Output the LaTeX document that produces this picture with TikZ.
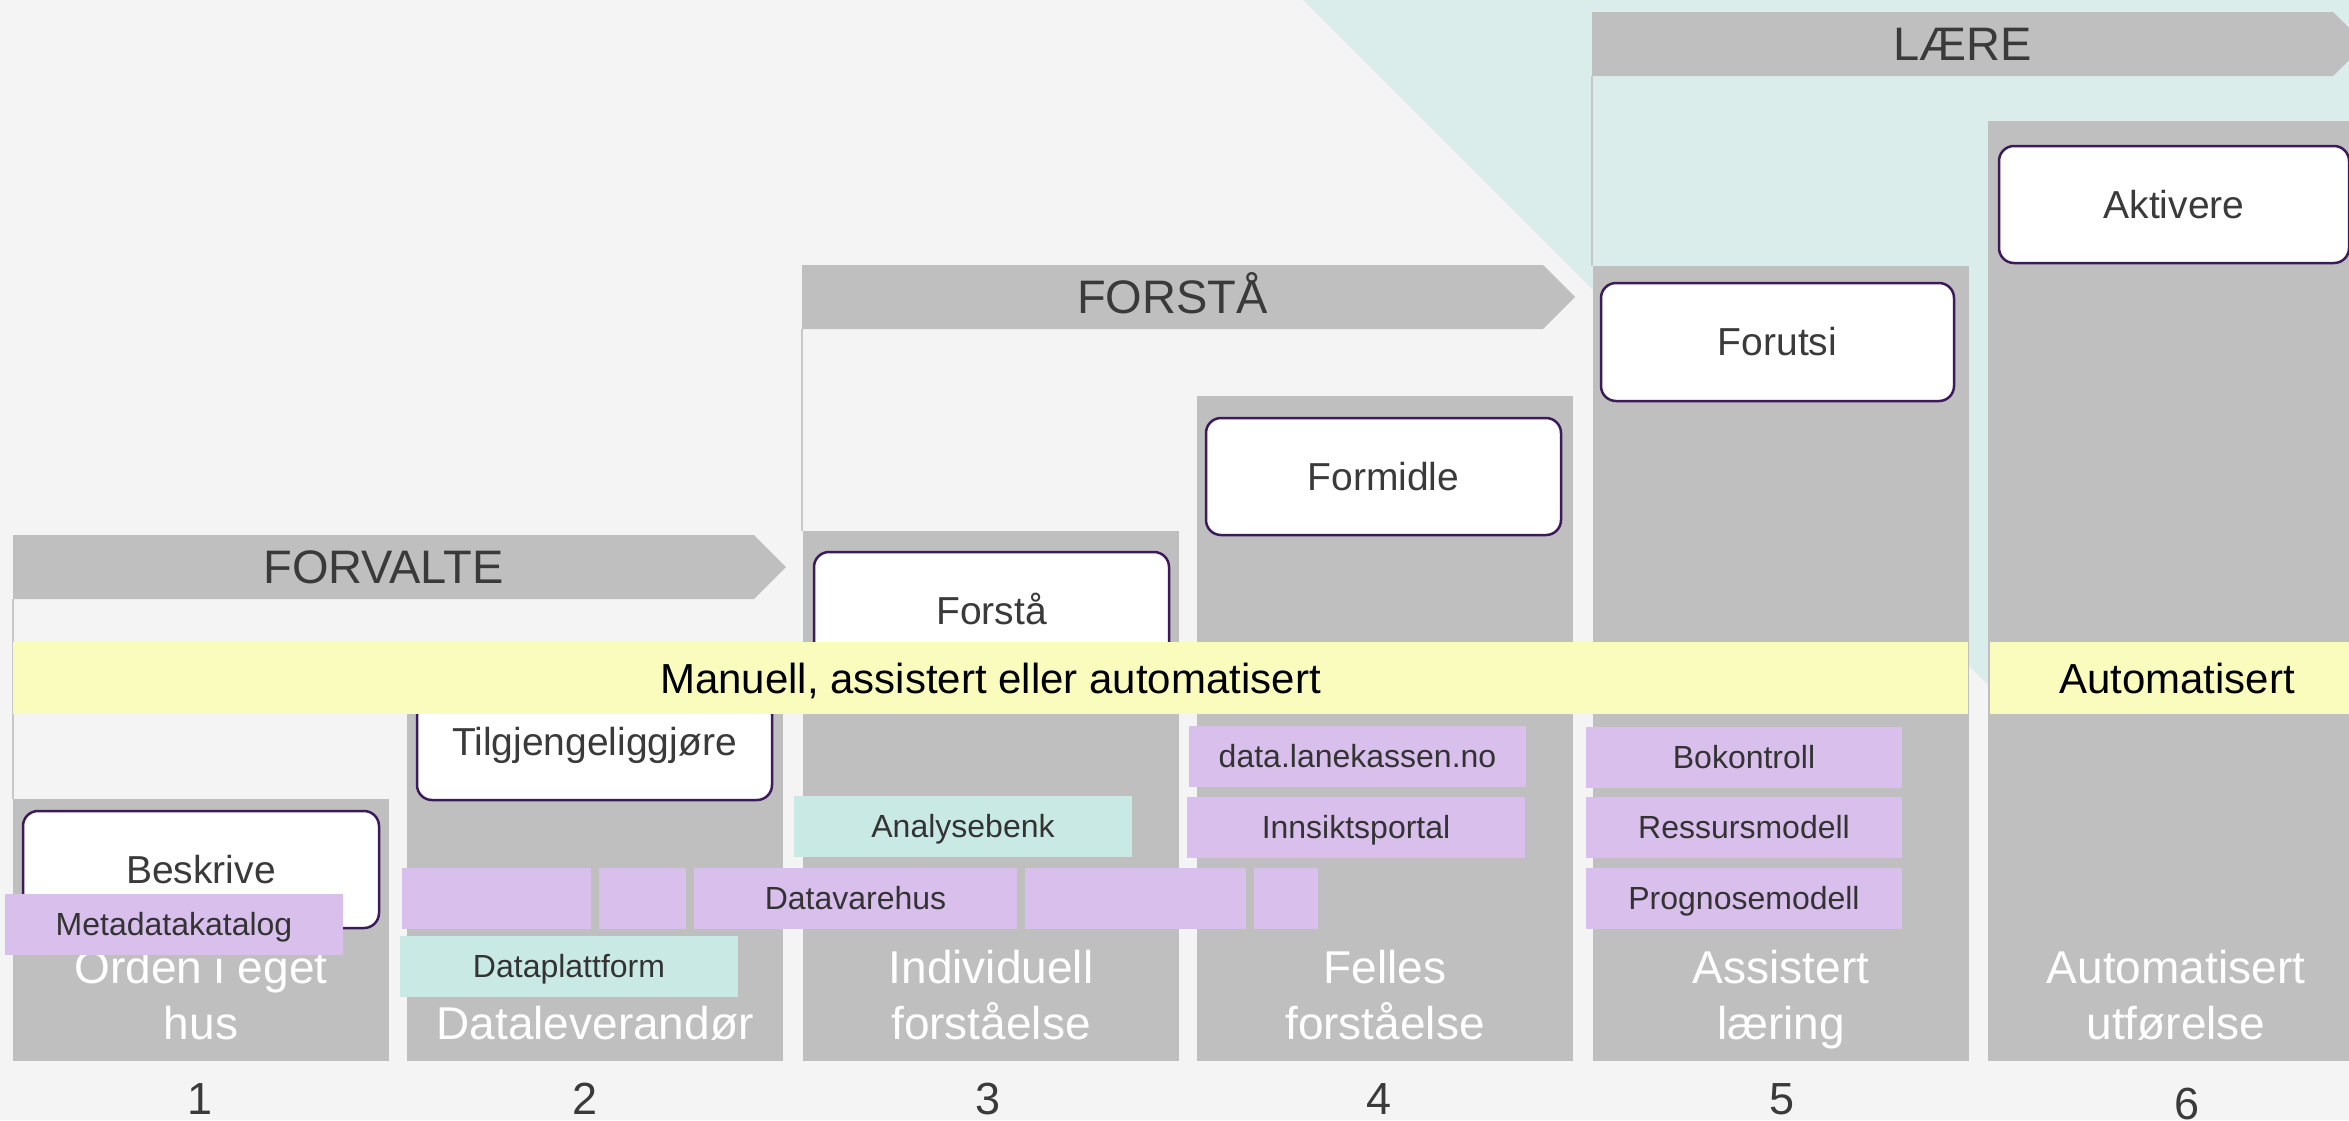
\documentclass[tikz,border=0pt]{standalone}
\usepackage{fontspec}
\setmainfont{Liberation Sans}
\definecolor{bgc}{HTML}{F4F4F4}
\definecolor{tealbg}{HTML}{DAEDEB}
\definecolor{colgrey}{HTML}{BFBFBF}
\definecolor{linegrey}{HTML}{C8C8C8}
\definecolor{yellowc}{HTML}{F9FCBD}
\definecolor{purp}{HTML}{D9BFEC}
\definecolor{tealbox}{HTML}{C9E9E4}
\definecolor{boxborder}{HTML}{3C1A5B}
\definecolor{txtgrey}{HTML}{3A3A3A}
\definecolor{txtdark}{HTML}{333333}
\tikzset{
  colbox/.style={fill=colgrey, draw=none, inner sep=0pt, anchor=north west},
  phasebar/.style={fill=colgrey, draw=none},
  phasetitle/.style={inner sep=0pt, text=txtgrey, font=\fontsize{47pt}{56pt}\selectfont, text height=33.7pt, text depth=0pt},
  bracketline/.style={draw=linegrey, line width=2pt},
  stepbox/.style={rounded corners=15pt, fill=white, draw=boxborder, line width=2.5pt, inner sep=0pt, text=txtgrey, font=\fontsize{39pt}{47pt}\selectfont, text height=27.9pt, text depth=0pt},
  pbox/.style={fill=purp, draw=none, inner sep=0pt, text=txtdark, font=\fontsize{32pt}{38pt}\selectfont, text height=22.9pt, text depth=0pt, minimum height=61pt},
  tbox/.style={pbox, fill=tealbox},
  yband/.style={fill=yellowc, draw=none, inner sep=0pt, text=black, font=\fontsize{42pt}{50pt}\selectfont, text height=30.1pt, text depth=0pt, minimum height=72pt},
  collabel/.style={inner sep=0pt, anchor=base, text=white, font=\fontsize{46pt}{56pt}\selectfont},
  numlabel/.style={inner sep=0pt, anchor=base, text=txtgrey, font=\fontsize{45pt}{54pt}\selectfont}
}
\begin{document}
\begin{tikzpicture}[x=1pt,y=-1pt]
\useasboundingbox (0,0) rectangle (2349,1120);
\clip (0,0) rectangle (2349,1120);
% background
\fill[bgc] (0,0) rectangle (2349,1120);
\fill[tealbg] (1303,0) -- (2349,0) -- (2349,1046) -- cycle;

% columns
\node[colbox, minimum width=376pt, minimum height=262pt] (c1) at (13,799) {};
\node[colbox, minimum width=376pt, minimum height=396pt] (c2) at (407,665) {};
\node[colbox, minimum width=376pt, minimum height=530pt] (c3) at (803,531) {};
\node[colbox, minimum width=376pt, minimum height=665pt] (c4) at (1197,396) {};
\node[colbox, minimum width=376pt, minimum height=795pt] (c5) at (1593,266) {};
\node[colbox, minimum width=376pt, minimum height=940pt] (c6) at (1988,121) {};

% phase bars
\fill[phasebar] (13,535) -- (754,535) -- (786,567) -- (754,599) -- (13,599) -- cycle;
\node[phasetitle] (tforvalte) at (383.5,567) {FORVALTE};
\coordinate (bforvalte) at (13,599);
\fill[phasebar] (802,265) -- (1543,265) -- (1575,297) -- (1543,329) -- (802,329) -- cycle;
\node[phasetitle] (tforsta) at (1172.5,297) {FORSTÅ};
\coordinate (bforsta) at (802,329);
\fill[phasebar] (1592,12) -- (2333,12) -- (2365,44) -- (2333,76) -- (1592,76) -- cycle;
\node[phasetitle] (tlaere) at (1962.5,44) {LÆRE};
\coordinate (blaere) at (1592,76);

% bracket lines
\draw[bracketline] (bforvalte) -- (c1.north west);
\draw[bracketline] (bforsta) -- ([xshift=-1pt]c3.north west);
\draw[bracketline] (blaere) -- ([xshift=-1pt]c5.north west);

% column labels
\node[collabel] (l1a) at (201,983) {Orden i eget};
\node[collabel] (l1b) at (201,1039) {hus};
\node[collabel] (l2a) at (595,1039) {Dataleverandør};
\node[collabel] (l3a) at (991,983) {Individuell};
\node[collabel] (l3b) at (991,1039) {forståelse};
\node[collabel] (l4a) at (1385,983) {Felles};
\node[collabel] (l4b) at (1385,1039) {forståelse};
\node[collabel] (l5a) at (1781,983) {Assistert};
\node[collabel] (l5b) at (1781,1039) {læring};
\node[collabel] (l6a) at (2176,983) {Automatisert};
\node[collabel] (l6b) at (2176,1039) {utførelse};

% step boxes
\node[stepbox, minimum width=356pt, minimum height=117pt] (b1) at (201,869.5) {Beskrive};
\node[stepbox, minimum width=355pt, minimum height=117pt] (b2) at (594.5,741.5) {Tilgjengeliggjøre};
\node[stepbox, minimum width=355pt, minimum height=117pt] (b3) at (991.5,610.5) {Forstå};
\node[stepbox, minimum width=355pt, minimum height=117pt] (b4) at (1383.5,476.5) {Formidle};
\node[stepbox, minimum width=353pt, minimum height=118pt] (b5) at (1777.5,342) {Forutsi};
\node[stepbox, minimum width=350pt, minimum height=117pt] (b6) at (2174,204.5) {Aktivere};

% yellow bands
\node[yband, minimum width=1955pt] (y1) at (990.5,678) {Manuell, assistert eller automatisert};
\node[yband, minimum width=374pt] (y2) at (2177,678) {Automatisert};

% purple and teal boxes
\node[pbox, minimum width=338pt] (meta) at (174,924.5) {Metadatakatalog};
\node[pbox, minimum width=189pt] (p1) at (496.5,898.5) {};
\node[pbox, minimum width=87pt] (p2) at (642.5,898.5) {};
\node[pbox, minimum width=323pt] (p3) at (855.5,898.5) {Datavarehus};
\node[pbox, minimum width=221pt] (p4) at (1135.5,898.5) {};
\node[pbox, minimum width=64pt] (p5) at (1286,898.5) {};
\node[pbox, minimum width=337pt] (dlk) at (1357.5,756.5) {data.lanekassen.no};
\node[pbox, minimum width=338pt] (inn) at (1356,827.5) {Innsiktsportal};
\node[pbox, minimum width=316pt] (bok) at (1744,757) {Bokontroll};
\node[pbox, minimum width=316pt] (res) at (1744,827.5) {Ressursmodell};
\node[pbox, minimum width=316pt] (prog) at (1744,898.5) {Prognosemodell};
\node[tbox, minimum width=338pt] (ana) at (963,826.5) {Analysebenk};
\node[tbox, minimum width=338pt] (dpf) at (569,966.5) {Dataplattform};

% numbers
\node[numlabel] (n1) at (200,1114) {1};
\node[numlabel] (n2) at (585,1114) {2};
\node[numlabel] (n3) at (988,1114) {3};
\node[numlabel] (n4) at (1379,1114) {4};
\node[numlabel] (n5) at (1782,1114) {5};
\node[numlabel] (n6) at (2187,1119) {6};
\end{tikzpicture}
\end{document}
